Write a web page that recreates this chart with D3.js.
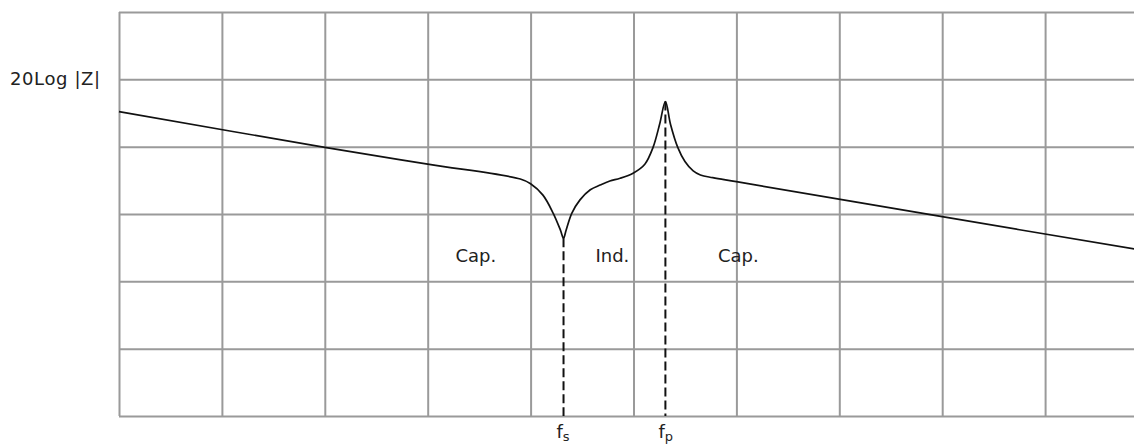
<!DOCTYPE html>
<html>
<head>
<meta charset="utf-8">
<script src="https://cdn.jsdelivr.net/npm/d3@7"></script>
<style>
  html, body { margin: 0; padding: 0; background: #fff; }
  svg { display: block; }
  text { font-family: "DejaVu Sans", Verdana, sans-serif; fill: #222; }
</style>
</head>
<body>
<svg id="chart" width="1134" height="446"></svg>
<script>
// Impedance magnitude of a crystal resonator vs. frequency (grid units)
const freq = [0, 2, 3, 3.9, 4.0, 4.12, 4.22, 4.29, 4.32, 4.345, 4.40, 4.48, 4.58, 4.675, 4.77, 4.87, 5.0, 5.11, 5.19, 5.255, 5.31, 5.36, 5.43, 5.50, 5.58, 5.65, 5.77, 6.0, 8.0, 9.87];
const mag  = [4.52, 3.99, 3.74, 3.52, 3.45, 3.28, 3.01, 2.76, 2.64, 2.76, 3.01, 3.21, 3.36, 3.43, 3.49, 3.53, 3.61, 3.74, 3.99, 4.34, 4.67, 4.33, 3.99, 3.78, 3.64, 3.58, 3.54, 3.48, 2.96, 2.48];

// Resonance markers: series (fs) and parallel (fp)
const markerNames = ["f", "f"];
const markerSubs  = ["s", "p"];
const markerFreq  = [4.32, 5.31];
const markerMag   = [2.64, 4.67];

// Reactance regions
const regionNames = ["Cap.", "Ind.", "Cap."];
const regionFreq  = [3.27, 4.63, 5.82];
const regionMag   = [2.29, 2.29, 2.29];

const yLabel = "20Log |Z|";

const svg = d3.select("#chart");
const plotLeft = 119, plotTop = 12, plotBottom = 416, colW = 102.9;

const x = d3.scaleLinear().domain([0, 10]).range([plotLeft, plotLeft + 10 * colW]);
const y = d3.scaleLinear().domain([0, 6]).range([plotBottom, plotTop]);

const gridColor = "#9a9a9a";

// vertical grid lines
svg.append("g")
  .attr("transform", `translate(0,${plotBottom})`)
  .call(d3.axisBottom(x).tickValues(d3.range(0, 10)).tickSize(-(plotBottom - plotTop)).tickFormat(""))
  .call(g => g.select(".domain").remove())
  .call(g => g.selectAll("line").attr("stroke", gridColor).attr("stroke-width", 2));

// horizontal grid lines
svg.append("g")
  .attr("transform", `translate(${plotLeft},0)`)
  .call(d3.axisLeft(y).tickValues(d3.range(0, 7)).tickSize(-(1134 - plotLeft)).tickFormat(""))
  .call(g => g.select(".domain").remove())
  .call(g => g.selectAll("line").attr("stroke", gridColor).attr("stroke-width", 2));

// dashed resonance markers
svg.append("g").selectAll("line")
  .data(markerFreq)
  .join("line")
  .attr("x1", d => x(d)).attr("x2", d => x(d))
  .attr("y1", (d, i) => y(markerMag[i])).attr("y2", y(0))
  .attr("stroke", "#111").attr("stroke-width", 2)
  .attr("stroke-dasharray", "9,4");

// impedance curve
const line = d3.line()
  .x((d, i) => x(freq[i]))
  .y(d => y(d))
  .curve(d3.curveCatmullRom.alpha(0.5));

svg.append("path")
  .datum(mag)
  .attr("d", line)
  .attr("fill", "none")
  .attr("stroke", "#111")
  .attr("stroke-width", 1.7);

// axis label
svg.append("text")
  .attr("x", 10).attr("y", 85)
  .attr("font-size", 18)
  .attr("letter-spacing", 0.6)
  .text(yLabel);

// region labels
svg.append("g").selectAll("text")
  .data(regionNames)
  .join("text")
  .attr("x", (d, i) => x(regionFreq[i]))
  .attr("y", (d, i) => y(regionMag[i]))
  .attr("font-size", 18)
  .text(d => d);

// marker labels with subscripts
const ml = svg.append("g").selectAll("text")
  .data(markerNames)
  .join("text")
  .attr("x", (d, i) => x(markerFreq[i]) - 7)
  .attr("y", 438)
  .attr("font-size", 18);
ml.append("tspan").text(d => d);
ml.append("tspan")
  .attr("dy", 3)
  .attr("font-size", 13)
  .text((d, i) => markerSubs[i]);
</script>
</body>
</html>
